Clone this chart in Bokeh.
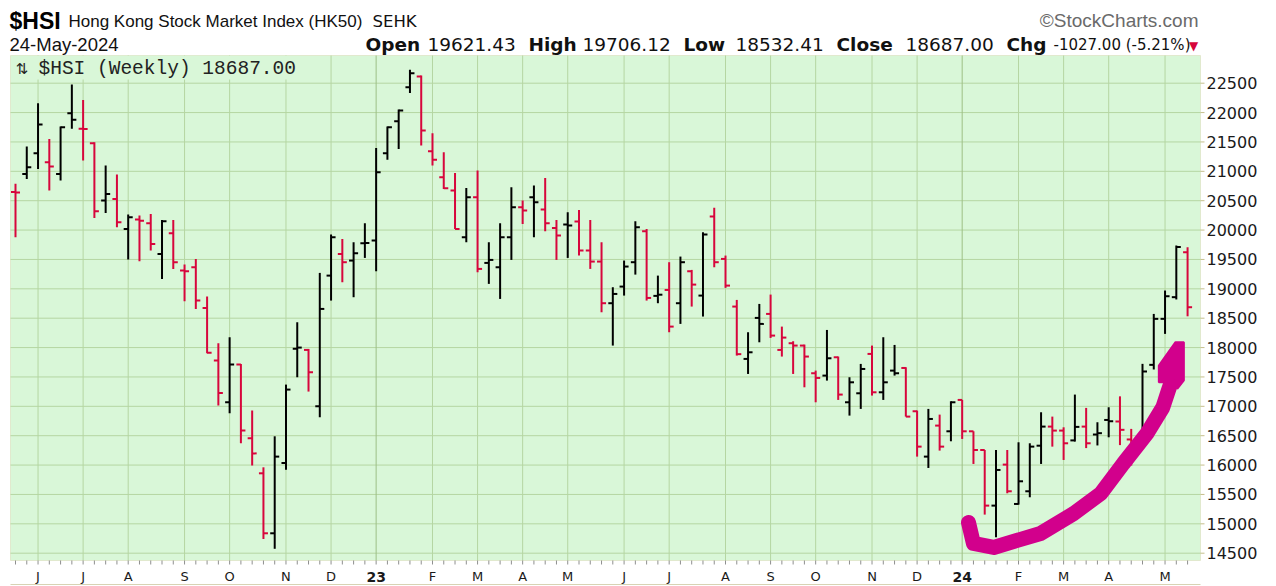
from bokeh.plotting import figure
from bokeh.models import Range1d, Label, BoxAnnotation, ColumnDataSource
from bokeh.transform import dodge
from bokeh.core.properties import value
from bokeh.embed import file_html
from bokeh.resources import INLINE

# ---------------- data: weekly bars, week of 23-May-2022 ... week of 20-May-2024 -------------
weeks = list(range(105))
prior_close = 20717.0

opens = [20650, 20956, 21308, 21155, 20956, 21989, 21723, 21478, 20502, 20531,
         20020, 20180, 20117, 19594, 19946, 19310, 19367, 18675, 17778, 17069,
         17710, 16458, 15860, 14839, 16035, 17980, 17960, 17001, 19225, 19594,
         19481, 19776, 19821, 21308, 21853, 22432, 22613, 21342, 20900, 20673,
         19878, 20559, 19441, 19367, 19878, 20389, 20559, 20349, 20037, 20094,
         20145, 19651, 19464, 18755, 19038, 19453, 19980, 18880, 18981, 18755,
         19299, 18885, 20230, 19509, 18698, 17807, 18505, 18573, 17960, 18074,
         18034, 17563, 17523, 17835, 17069, 17222, 17892, 17239, 17608, 17653,
         16916, 16144, 16672, 16575, 17109, 16575, 16257, 15310, 16008, 15338,
         15554, 16330, 16655, 16587, 16420, 16655, 16520, 16768, 16742, 16436,
         16401, 17706, 18489, 18858, 19621.43]

highs = [20790, 21422, 22160, 21552, 21762, 22477, 22216, 21496, 21098, 20945,
         20264, 20247, 20275, 20173, 20173, 19413, 19509, 18868, 18074, 18176,
         17722, 16927, 15962, 16490, 17370, 18431, 17977, 19271, 19924, 19850,
         19793, 20117, 21399, 21762, 22052, 22727, 22630, 21649, 21325, 20973,
         20718, 21013, 19793, 20117, 20729, 20502, 20758, 20888, 20173, 20304,
         20343, 20173, 19793, 19027, 19481, 20151, 20020, 19225, 19453, 19549,
         19322, 19963, 20378, 19566, 18811, 18261, 18743, 18902, 18357, 18108,
         18051, 17608, 18300, 17847, 17495, 17722, 18034, 18176, 18045, 17665,
         16927, 16956, 16859, 17086, 17109, 16575, 16257, 16257, 16257, 16388,
         16371, 16899, 16825, 16643, 17200, 16973, 16729, 16984, 17170, 16616,
         17723, 18573, 18971, 19737, 19706.12]

lows = [19880, 20871, 21041, 20673, 20843, 21723, 21183, 20207, 20292, 20048,
        19498, 19470, 19651, 19169, 19339, 18789, 18658, 17903, 17012, 16882,
        16371, 15991, 14742, 14575, 15920, 17495, 17251, 16814, 18800, 19112,
        18857, 19526, 19299, 21195, 21382, 22335, 21439, 21098, 20701, 20020,
        19793, 19282, 19084, 18828, 19492, 20105, 19878, 19980, 19492, 19526,
        19566, 19339, 18601, 18034, 18885, 19242, 18800, 18755, 18261, 18403,
        18698, 18528, 19367, 19016, 17864, 17551, 18090, 18164, 17847, 17551,
        17324, 17069, 17438, 17109, 16842, 16956, 17183, 17109, 17523, 16825,
        16144, 15951, 16246, 16405, 16445, 16019, 15157, 14771, 15520, 15327,
        15452, 16019, 16314, 16087, 16400, 16289, 16334, 16473, 16340, 15993,
        16390, 17627, 18233, 18819, 18532.41]

closes = [20640, 21070, 21796, 21081, 21751, 21876, 21720, 20321, 20616, 20134,
          20219, 20160, 19762, 20151, 19453, 19300, 18800, 17910, 17228, 17710,
          16587, 16199, 14839, 16144, 17285, 18000, 17580, 18658, 19878, 19453,
          19606, 19780, 20985, 21751, 22035, 22670, 21694, 21195, 20712, 20020,
          20559, 19339, 19492, 19878, 20389, 20332, 20474, 20117, 19906, 20077,
          19651, 19464, 18755, 18913, 19379, 20048, 18845, 18900, 18357, 19453,
          19072, 19924, 19453, 19055, 17888, 17920, 18403, 18204, 18170, 18034,
          17847, 17483, 17818, 17200, 17409, 17636, 17239, 17409, 17563, 16825,
          16314, 16785, 16314, 17069, 16575, 16257, 15310, 15917, 15554, 15724,
          16314, 16655, 16587, 16371, 16650, 16371, 16543, 16746, 16600, 16305,
          17593, 18489, 18874, 19714, 18687.00]

month_ticks = [2, 6, 10, 15, 19, 24, 28, 32, 37, 41, 45, 49,
               54, 58, 63, 67, 71, 76, 80, 84, 89, 93, 97, 102]
month_labels = ["J", "J", "A", "S", "O", "N", "D", "23", "F", "M", "A", "M",
                "J", "J", "A", "S", "O", "N", "D", "24", "F", "M", "A", "M"]
year_labels = ["23", "24"]
price_ticks = [14500, 15000, 15500, 16000, 16500, 17000, 17500, 18000, 18500,
               19000, 19500, 20000, 20500, 21000, 21500, 22000, 22500]

# hand-drawn highlight swoosh (annotation), in week / price units
swoosh_week = [84.56, 85.0, 86.8, 90.95, 93.9, 96.3, 98.3, 100.4, 101.8, 102.3, 102.66]
swoosh_price = [15023, 14666, 14598, 14836, 15176, 15517, 16027, 16538, 16980, 17270, 17474]
head_week = [101.45, 102.93, 103.67, 103.67, 103.08, 102.93, 102.33, 101.45]
head_price = [17695, 18092, 18092, 17440, 17299, 17440, 17411, 17411]

# ---------------- styling / layout ----------------
RED = "#d7063c"
BLACK = "#000000"
BG = "#d9f7d8"
GRID = "#b5d6a2"
YEARGRID = "#9dbf86"
FRAME = "#c6bf8c"
MAGENTA = "#d2008c"
W, H = 1276, 586
PX_WEEK, X_WEEK0 = 11.27, 15.0          # pixels per week, pixel of first bar
PX_PRICE, Y_22500 = 470.0 / 8000.0, 82.7  # pixels per index point, pixel of 22500


def wx(px):  # page pixel -> week coordinate
    return (px - X_WEEK0) / PX_WEEK


def py(px):  # page pixel -> price coordinate
    return 22500 - (px - Y_22500) / PX_PRICE


PL, PR, PT, PB = wx(10), wx(1200), py(55), py(560)   # plot-area edges

prev = [prior_close] + closes[:-1]
colors = [RED if c < pc else BLACK for c, pc in zip(closes, prev)]
src = ColumnDataSource(dict(x=weeks, o=opens, h=highs, l=lows, c=closes, color=colors))

p = figure(width=W, height=H, output_backend="svg", toolbar_location=None,
           x_range=Range1d(wx(0), wx(W)), y_range=Range1d(py(H), py(0)),
           x_axis_type=None, y_axis_type=None, min_border=0,
           background_fill_color="white", border_fill_color="white", outline_line_color=None)

# plot area
p.add_layout(BoxAnnotation(left=PL, right=PR, top=PT, bottom=PB, fill_color=BG, fill_alpha=1.0,
                           line_color=FRAME, line_width=1, level="underlay"))

# grid lines
n = len(price_ticks)
p.segment(x0=[PL] * n, x1=[PR] * n, y0=price_ticks, y1=price_ticks, line_color=GRID, line_width=1)
p.segment(x0=month_ticks, x1=month_ticks, y0=[PB] * len(month_ticks), y1=[PT] * len(month_ticks),
          line_color=[YEARGRID if lab in year_labels else GRID for lab in month_labels], line_width=1)

# right price axis
p.segment(x0=[PR] * n, x1=[wx(1204)] * n, y0=price_ticks, y1=price_ticks, line_color=FRAME, line_width=1)
p.text(x=[wx(1206)] * n, y=price_ticks, text=[str(t) for t in price_ticks],
       text_font=value("DejaVu Sans"), text_font_size="16px", text_baseline="middle",
       text_align="left", text_color="#1a1a1a")

# bottom date axis
p.segment(x0=weeks, x1=weeks, y0=[PB] * len(weeks), y1=[py(564)] * len(weeks),
          line_color="#8f8f8f", line_width=1)
p.segment(x0=[PL], x1=[PR], y0=[py(584)], y1=[py(584)], line_color="#d8d3b4", line_width=1)
m_x = [t for t, lab in zip(month_ticks, month_labels) if lab not in year_labels]
m_t = [lab for lab in month_labels if lab not in year_labels]
y_x = [t for t, lab in zip(month_ticks, month_labels) if lab in year_labels]
y_t = [lab for lab in month_labels if lab in year_labels]
p.text(x=m_x, y=[py(576)] * len(m_x), text=m_t, text_font=value("DejaVu Sans"),
       text_font_size="13px", text_align="center", text_baseline="middle", text_color="#1a1a1a")
p.text(x=y_x, y=[py(576)] * len(y_x), text=y_t, text_font=value("DejaVu Sans"),
       text_font_size="14px", text_font_style="bold", text_align="center",
       text_baseline="middle", text_color="#1a1a1a")

# OHLC bars
p.segment(x0="x", y0="l", x1="x", y1="h", line_color="color", line_width=2, source=src)
p.segment(x0=dodge("x", -0.4), y0="o", x1="x", y1="o", line_color="color", line_width=2, source=src)
p.segment(x0="x", y0="c", x1=dodge("x", 0.4), y1="c", line_color="color", line_width=2, source=src)

# highlight swoosh
p.line(swoosh_week, swoosh_price, line_color=MAGENTA, line_width=15, line_cap="round", line_join="round")
p.patch(head_week, head_price, fill_color=MAGENTA, line_color=MAGENTA, line_width=2)

# in-plot caption background
p.add_layout(BoxAnnotation(left=PL + 0.05, right=wx(300), bottom=py(79), top=PT - 5,
                           fill_color=BG, fill_alpha=1.0, line_color=None))


# ---------------- texts (page pixels: x from left, y from top) ----------------
def add_text(txt, rx, ry, size, font="Liberation Sans", style="normal", color="#111111", align="left"):
    p.add_layout(Label(x=rx, y=H - ry, x_units="screen", y_units="screen", text=txt,
                       text_font=font, text_font_size=size, text_font_style=style,
                       text_color=color, text_align=align, text_baseline="middle"))


add_text("\u21c5", 15, 68, "15px", font="DejaVu Sans", color="#222222")
add_text("$HSI (Weekly) 18687.00", 38, 68, "19.5px", font="Liberation Mono", color="#222222")

add_text("$HSI", 9, 20, "23px", style="bold", color="#000000")
add_text("Hong Kong Stock Market Index (HK50)", 68, 21, "17px")
add_text("SEHK", 372, 21, "16.5px", font="DejaVu Sans")
add_text("\u00a9StockCharts.com", 1198, 20, "19px", color="#6a6a6a", align="right")

add_text("24-May-2024", 9, 44, "18.5px")
add_text("Open", 365, 44, "18.5px", font="DejaVu Sans", style="bold")
add_text("19621.43", 427, 44, "18.5px", font="DejaVu Sans")
add_text("High", 528, 44, "18.5px", font="DejaVu Sans", style="bold")
add_text("19706.12", 582, 44, "18.5px", font="DejaVu Sans")
add_text("Low", 683, 44, "18.5px", font="DejaVu Sans", style="bold")
add_text("18532.41", 735, 44, "18.5px", font="DejaVu Sans")
add_text("Close", 836, 44, "18.5px", font="DejaVu Sans", style="bold")
add_text("18687.00", 905, 44, "18.5px", font="DejaVu Sans")
add_text("Chg", 1006, 44, "18.5px", font="DejaVu Sans", style="bold")
add_text("-1027.00 (-5.21%)", 1053, 44, "15px", font="DejaVu Sans")
add_text("\u25bc", 1193, 45, "12px", font="DejaVu Sans", color=RED, align="center")

open("out.html", "w").write(file_html(p, INLINE))
